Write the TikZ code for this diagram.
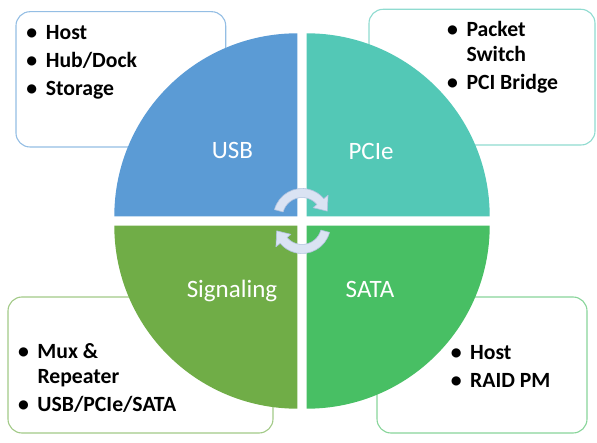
\documentclass[tikz,border=0pt]{standalone}
\usepackage{fontspec}
\setmainfont{Carlito}
\definecolor{cusb}{HTML}{5B9BD5}
\definecolor{cpci}{HTML}{53C8B6}
\definecolor{csig}{HTML}{70AD47}
\definecolor{csata}{HTML}{48BF64}
\definecolor{arrfill}{HTML}{DAE3F3}
\definecolor{arredge}{HTML}{AFC2DE}
\newcommand\bul{\makebox[10pt]{•}}
\begin{document}
\begin{tikzpicture}[x=1pt,y=1pt,
  infobox/.style={rounded corners=14pt, fill=white, line width=1.1pt},
  boxtext/.style={anchor=base west, inner sep=0pt, font=\bfseries\fontsize{21.7}{25}\selectfont},
  lbl/.style={anchor=base, inner sep=0pt, text=white, font=\fontsize{25}{29}\selectfont},
  cyc/.style={fill=arrfill, draw=arredge, line width=0.6pt, line join=round}]
\useasboundingbox (0,0) rectangle (597,-443);
% info boxes
\draw[infobox, draw=cusb!65] (16,-11.7) rectangle (225.7,-147);
\draw[infobox, draw=cpci!65] (369,-9.3) rectangle (595,-145);
\draw[infobox, draw=csig!65] (8,-297) rectangle (273,-433);
\draw[infobox, draw=csata!65] (377,-297) rectangle (587,-433);
% quadrants
\fill[cusb] (297.3,-216.3) -- ++(-183,0) arc[start angle=180,end angle=90,radius=183pt] -- cycle;
\fill[cpci] (306.7,-216.3) -- ++(0,183) arc[start angle=90,end angle=0,radius=183pt] -- cycle;
\fill[csig] (297.3,-225.7) -- ++(-183,0) arc[start angle=180,end angle=270,radius=183pt] -- cycle;
\fill[csata] (306.7,-225.7) -- ++(183,0) arc[start angle=0,end angle=-90,radius=183pt] -- cycle;
% labels
\node[lbl] (tusb) at (232.5,-159) {USB};
\node[lbl] (tpci) at (371,-159.3) {PCIe};
\node[lbl] (tsig) at (232,-297.3) {Signaling};
\node[lbl] (tsata) at (370,-297.3) {SATA};
% cycle arrows
\begin{scope}[shift={(302,-217)}]
\draw[cyc] (165:28.5pt) arc[start angle=165,end angle=40,radius=28.5pt] -- (40:34pt) -- (13:26pt) -- (40:14.5pt) -- (40:19.5pt) arc[start angle=40,end angle=165,radius=19.5pt] -- cycle;
\end{scope}
\begin{scope}[shift={(302,-225)},rotate=180]
\draw[cyc] (165:28.5pt) arc[start angle=165,end angle=40,radius=28.5pt] -- (40:34pt) -- (13:26pt) -- (40:14.5pt) -- (40:19.5pt) arc[start angle=40,end angle=165,radius=19.5pt] -- cycle;
\end{scope}
% box texts
\node[boxtext] (l1) at (26.7,-39.3) {\begin{tabular}[t]{@{}l@{\hspace{9pt}}l@{}}\bul & Host\\[3pt] \bul & Hub/Dock\\[3pt] \bul & Storage\end{tabular}};
\node[boxtext] (l2) at (447.3,-36.7) {\begin{tabular}[t]{@{}l@{\hspace{9pt}}l@{}}\bul & Packet\\ & Switch\\[3pt] \bul & PCI Bridge\end{tabular}};
\node[boxtext] (l3) at (18.3,-359) {\begin{tabular}[t]{@{}l@{\hspace{9pt}}l@{}}\bul & Mux \&\\ & Repeater\\[3pt] \bul & USB/PCIe/SATA\end{tabular}};
\node[boxtext] (l4) at (451,-359.3) {\begin{tabular}[t]{@{}l@{\hspace{9pt}}l@{}}\bul & Host\\[3.4pt] \bul & RAID PM\end{tabular}};
\end{tikzpicture}
\end{document}
